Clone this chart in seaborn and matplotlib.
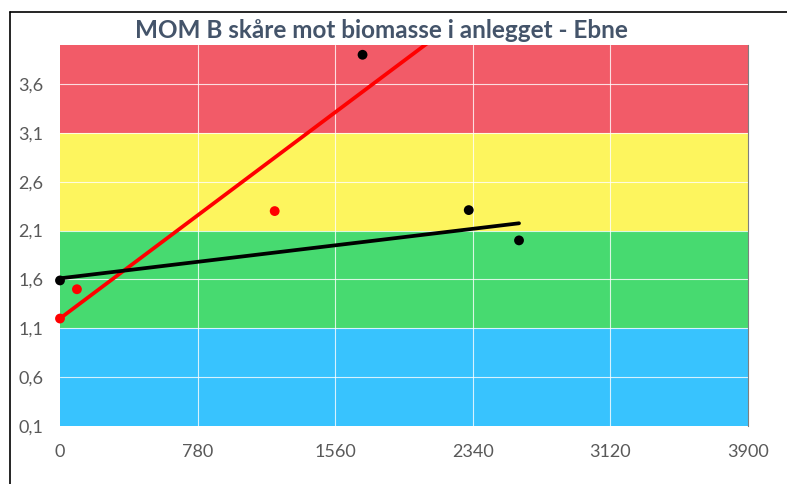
import numpy as np
import pandas as pd
import matplotlib
matplotlib.use("Agg")
import matplotlib.pyplot as plt
from matplotlib.lines import Line2D
import seaborn as sns

# data
red_x = [0, 96, 1217, 1715]
red_y = [1.2, 1.5, 2.3, 3.9]
red_point_colors = ["#FF0000", "#FF0000", "#FF0000", "#000000"]
black_x = [0, 2317, 2602]
black_y = [1.59, 2.31, 2.0]

x_ticks = [0, 780, 1560, 2340, 3120, 3900]
y_ticks = [0.1, 0.6, 1.1, 1.6, 2.1, 2.6, 3.1, 3.6]
bands = [(0.1, 1.1, "#38C3FE"), (1.1, 2.1, "#47DA70"), (2.1, 3.1, "#FDF55E"), (3.1, 4.0, "#F25B68")]
title = "MOM B skåre mot biomasse i anlegget - Ebne"

sns.set_style("white")
plt.rcParams["font.family"] = ["Lato", "DejaVu Sans"]

fig = plt.figure(figsize=(7.87, 4.84), dpi=100)
ax = fig.add_axes([60 / 787, 58 / 484, 688 / 787, 381 / 484])

for lo, hi, c in bands:
    ax.axhspan(lo, hi, color=c, zorder=0, lw=0)

for v in x_ticks[1:-1]:
    ax.axvline(v, color="white", lw=0.8, alpha=0.8, zorder=1)
for v in y_ticks[1:]:
    ax.axhline(v, color="white", lw=0.8, alpha=0.8, zorder=1)

# trendlines (linear fit, as in the spreadsheet)
rb = np.polyfit(red_x, red_y, 1)
bb = np.polyfit(black_x, black_y, 1)
red_line = pd.DataFrame({"x": [0, max(black_x)]})
red_line["y"] = np.polyval(rb, red_line["x"])
black_line = pd.DataFrame({"x": [0, max(black_x)]})
black_line["y"] = np.polyval(bb, black_line["x"])
sns.lineplot(data=red_line, x="x", y="y", color="#FF0000", lw=2.7, ax=ax, zorder=3)
sns.lineplot(data=black_line, x="x", y="y", color="#000000", lw=2.7, ax=ax, zorder=3)

sns.scatterplot(x=red_x, y=red_y, c=red_point_colors, s=50, edgecolor="none", ax=ax, zorder=4, clip_on=False)
sns.scatterplot(x=black_x, y=black_y, color="#000000", s=50, edgecolor="none", ax=ax, zorder=4, clip_on=False)

ax.set_xlim(0, 3900)
ax.set_ylim(0.1, 4.0)
ax.set_xticks(x_ticks)
ax.set_xticklabels([str(v) for v in x_ticks])
ax.set_yticks(y_ticks)
ax.set_yticklabels([f"{v:.1f}".replace(".", ",") for v in y_ticks])
ax.tick_params(axis="both", length=0, labelsize=13, labelcolor="#595959")
ax.tick_params(axis="x", pad=13)
ax.tick_params(axis="y", pad=12)
ax.set_xlabel("")
ax.set_ylabel("")
for s in ax.spines.values():
    s.set_visible(False)
ax.spines["right"].set_visible(True)
ax.spines["right"].set_color("#7F7F7F")
ax.spines["right"].set_linewidth(0.8)

fig.text(381 / 787, 1 - 31 / 484, title, ha="center", va="center",
         fontsize=17.5, fontweight="bold", color="#44546A")

# outer chart frame (top and left visible)
fig.add_artist(Line2D([10 / 787, 1], [1 - 12 / 484, 1 - 12 / 484], color="black", lw=1.2))
fig.add_artist(Line2D([10 / 787, 10 / 787], [0, 1 - 12 / 484], color="black", lw=1.2))

fig.savefig("out.png", dpi=100)
